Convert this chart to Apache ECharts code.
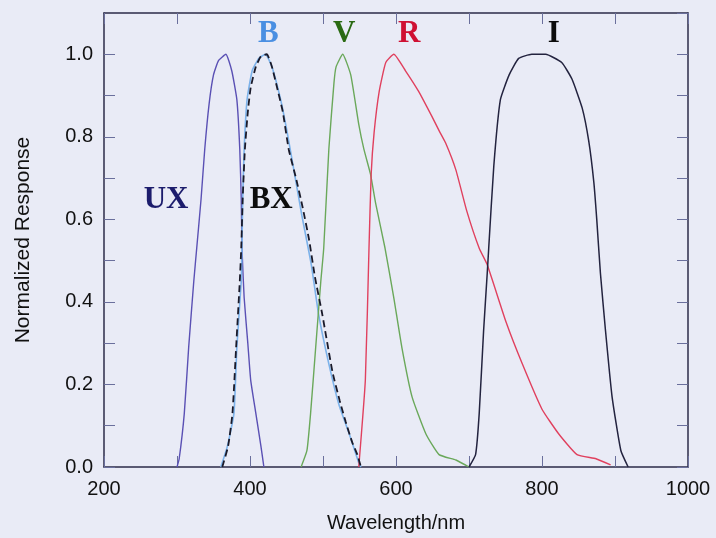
<!DOCTYPE html>
<html>
<head>
<meta charset="utf-8">
<script src="https://cdn.jsdelivr.net/npm/echarts@6/dist/echarts.min.js"></script>
<style>
  html, body { margin: 0; padding: 0; background: #e9ebf6; }
  #chart { width: 716px; height: 538px; }
</style>
</head>
<body>
<div id="chart"></div>
<script>
// Filter response curves: [wavelength (nm), normalized response]
const uxCurve = [[300,0],[303,0.02],[310,0.13],[316,0.29],[323,0.45],[327,0.53],[333,0.65],[338,0.77],[344,0.88],[350,0.95],[357,0.985],[367,1.0],[375,0.96],[382,0.89],[386,0.77],[388,0.65],[389,0.53],[392,0.41],[397,0.3],[401,0.21],[408,0.13],[415,0.05],[419,0]];
const bCurve = [[360,0],[369,0.05],[378,0.13],[382,0.29],[388,0.45],[389,0.53],[390,0.65],[392,0.77],[396,0.89],[403,0.96],[412,0.99],[421,1.0],[430,0.97],[442,0.89],[451,0.81],[463,0.69],[471,0.61],[484,0.49],[494,0.37],[508,0.25],[522,0.15],[536,0.08],[549,0.01],[552,0]];
const bxCurve = [[362,0],[370,0.05],[376,0.13],[381,0.29],[386,0.45],[388,0.53],[390,0.65],[393,0.77],[397,0.86],[401,0.92],[408,0.97],[415,0.995],[423,1.0],[430,0.97],[437,0.92],[445,0.86],[453,0.77],[463,0.7],[472,0.63],[481,0.55],[489,0.46],[499,0.37],[513,0.23],[523,0.16],[531,0.11],[540,0.06],[547,0.03],[552,0]];
const vCurve = [[470,0],[478,0.04],[483,0.13],[490,0.29],[497,0.45],[501,0.53],[508,0.77],[515,0.93],[518,0.97],[527,1.0],[538,0.95],[549,0.83],[556,0.77],[565,0.71],[572,0.64],[585,0.53],[597,0.41],[608,0.29],[622,0.17],[641,0.08],[659,0.03],[682,0.017],[700,0]];
const rCurve = [[549,0],[558,0.21],[563,0.53],[566,0.71],[570,0.81],[577,0.91],[586,0.98],[597,1.0],[613,0.96],[631,0.91],[649,0.85],[659,0.815],[668,0.785],[682,0.72],[697,0.62],[714,0.53],[725,0.49],[751,0.35],[773,0.25],[800,0.14],[823,0.08],[848,0.03],[874,0.02],[894,0.005]];
const iCurve = [[700,0],[709,0.03],[714,0.13],[720,0.33],[725,0.47],[727,0.53],[734,0.73],[743,0.89],[755,0.95],[768,0.99],[786,1.0],[805,1.0],[827,0.98],[841,0.94],[855,0.87],[864,0.79],[871,0.69],[875,0.6],[880,0.47],[887,0.33],[896,0.17],[908,0.04],[918,0]];

// Filter names and where their captions sit (wavelength, response)
const filterNames = ['UX', 'BX', 'B', 'V', 'R', 'I'];
const captionPos = [[285,0.647],[429,0.647],[425,1.048],[529,1.048],[618,1.048],[816,1.048]];
const captionColors = ['#1c1c6c', '#0d0d0d', '#4a8fe2', '#2a6a12', '#cf1133', '#0d0d0d'];

const xTicks = { min: 200, max: 1000, interval: 100, labelStep: 200 };
const yTicks = { min: 0, max: 1.1, interval: 0.1, labelStep: 0.2 };

const axisColor = '#2b2b48';
const tickColor = '#6a6f9c';
const chart = echarts.init(document.getElementById('chart'));

function xAxisDef(pos, showLabels) {
  return {
    type: 'value', position: pos,
    min: xTicks.min, max: xTicks.max, interval: xTicks.interval,
    axisLine: { show: true, onZero: false, lineStyle: { color: axisColor, width: 1.5 } },
    axisTick: { show: true, inside: true, length: 11, lineStyle: { color: tickColor, width: 1 } },
    axisLabel: {
      show: showLabels, color: '#111', fontFamily: 'Liberation Sans', fontSize: 20, margin: 12,
      formatter: v => (Math.round(v) % xTicks.labelStep === 0 ? String(Math.round(v)) : '')
    },
    splitLine: { show: false },
    name: showLabels ? 'Wavelength/nm' : '',
    nameLocation: 'middle', nameGap: 46,
    nameTextStyle: { color: '#111', fontFamily: 'Liberation Sans', fontSize: 20 }
  };
}

function yAxisDef(pos, showLabels) {
  return {
    type: 'value', position: pos,
    min: yTicks.min, max: yTicks.max, interval: yTicks.interval,
    axisLine: { show: true, onZero: false, lineStyle: { color: axisColor, width: 1.5 } },
    axisTick: { show: true, inside: true, length: 11, lineStyle: { color: tickColor, width: 1 } },
    axisLabel: {
      show: showLabels, color: '#111', fontFamily: 'Liberation Sans', fontSize: 20, margin: 11,
      showMaxLabel: false,
      formatter: v => {
        const tenths = Math.round(v * 10);
        return (tenths % 2 === 0 && tenths <= 10) ? (tenths / 10).toFixed(1) : '';
      }
    },
    splitLine: { show: false },
    name: showLabels ? 'Normalized Response' : '',
    nameLocation: 'middle', nameGap: 70, nameRotate: 90,
    nameTextStyle: { color: '#111', fontFamily: 'Liberation Sans', fontSize: 21 }
  };
}

function curve(name, data, color, width, dashed) {
  return {
    name, type: 'line', data, showSymbol: false, smooth: 0.15,
    lineStyle: { color, width, type: dashed ? [7, 4] : 'solid' },
    z: dashed ? 3 : 2, silent: true
  };
}

chart.setOption({
  backgroundColor: '#e9ebf6',
  animation: false,
  grid: { left: 104, right: 28, top: 13, bottom: 65 },
  xAxis: [xAxisDef('bottom', true), xAxisDef('top', false)],
  yAxis: [yAxisDef('left', true), yAxisDef('right', false)],
  series: [
    curve('UX', uxCurve, '#5a50b4', 1.4, false),
    curve('B', bCurve, '#7cb2ea', 1.6, false),
    curve('BX', bxCurve, '#1a1a2a', 1.8, true),
    curve('V', vCurve, '#6aa85a', 1.4, false),
    curve('R', rCurve, '#e0405e', 1.4, false),
    curve('I', iCurve, '#23233f', 1.5, false),
    {
      type: 'scatter', symbolSize: 0, silent: true, z: 5,
      itemStyle: { opacity: 1 },
      data: filterNames.map((n, i) => ({
        name: n, value: captionPos[i],
        label: {
          show: true, position: 'inside', formatter: n, opacity: 1,
          color: captionColors[i], fontFamily: 'Liberation Serif',
          fontWeight: 'bold', fontSize: 31
        }
      }))
    }
  ]
});
</script>
</body>
</html>
